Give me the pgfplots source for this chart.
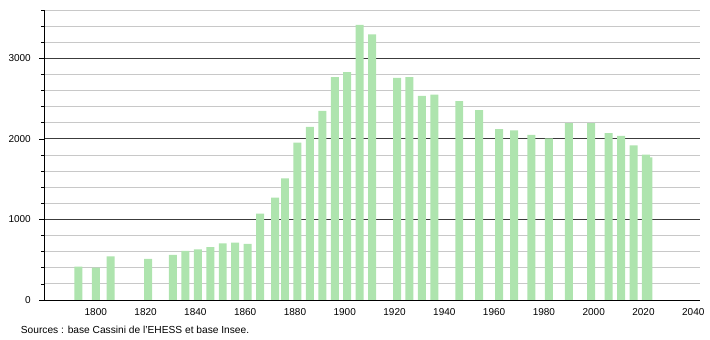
\documentclass[border=0pt]{standalone}
\usepackage{pgfplots}
\pgfplotsset{compat=1.18}
\usepackage{fontspec}
\setmainfont{Liberation Sans}
\definecolor{barg}{RGB}{174,228,174}
\definecolor{majg}{RGB}{60,60,60}
\definecolor{ming}{RGB}{200,200,200}
\begin{document}
\begin{tikzpicture}[x=1pt,y=1pt]
\path (0,0) rectangle (710,340);
\begin{axis}[
  at={(44pt,40pt)}, anchor=south west,
  scale only axis, width=656pt, height=290pt,
  xmin=1779.2, xmax=2042.7, ymin=0, ymax=3600,
  axis x line=bottom, axis y line=left,
  axis line style={black, -},
  xtick={1800,1820,...,2040},
  ytick={0,1000,2000,3000},
  minor ytick={200,400,600,800,1200,1400,1600,1800,2200,2400,2600,2800,3200,3400,3600},
  ymajorgrids, yminorgrids,
  major grid style={majg, line width=0.8pt},
  minor grid style={ming, line width=0.8pt},
  x tick style={draw=none},
  y tick style={black, line width=0.6pt},
  tick align=outside,
  major tick length=5pt, minor tick length=3pt,
  /pgf/number format/assume math mode=true,
  /pgf/number format/1000 sep={},
  tick label style={font=\fontsize{10}{12}\selectfont},
  xticklabel style={inner sep=0pt, anchor=north, yshift=-3pt},
  yticklabel style={inner sep=0pt, anchor=east, xshift=-8pt},
  clip=false,
]
\addplot[ybar, bar width=3.2, fill=barg, draw=none] coordinates {
(1793,415) (1800,403) (1806,540) (1821,511) (1831,561) (1836,611)
(1841,627) (1846,657) (1851,702) (1856,711) (1861,698) (1866,1072)
(1872,1272) (1876,1509) (1881,1954) (1886,2149) (1891,2348) (1896,2768)
(1901,2830) (1906,3416) (1911,3296) (1921,2756) (1926,2768) (1931,2535)
(1936,2548) (1946,2469) (1954,2357) (1962,2120) (1968,2107) (1975,2049)
(1982,2007) (1990,2195) (1999,2195) (2006,2070) (2011,2036) (2016,1920)
(2021,1804) (2022,1771)
};
\end{axis}
\node[anchor=base west, inner sep=0pt, font=\fontsize{10.2}{12}\selectfont] at (20.7,6.7) {Sources : base Cassini de l'EHESS et base Insee.};
\end{tikzpicture}
\end{document}
